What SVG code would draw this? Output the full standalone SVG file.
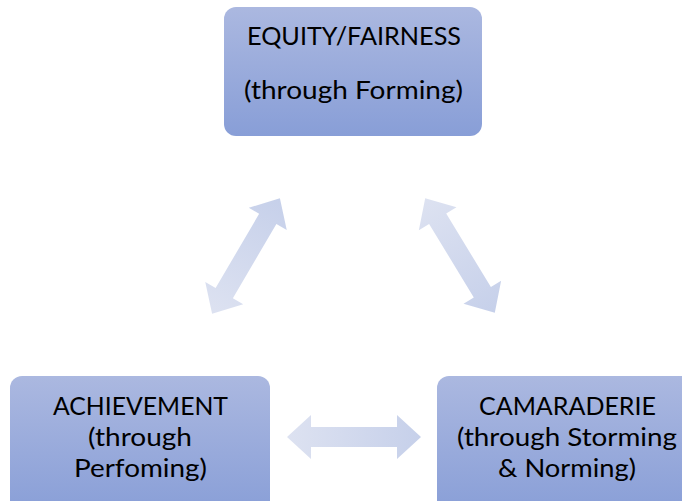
<svg xmlns="http://www.w3.org/2000/svg" width="682" height="501" viewBox="0 0 682 501">
<defs>
<linearGradient id="boxg" x1="0" y1="0" x2="0" y2="1">
<stop offset="0" stop-color="#abb8e0"/>
<stop offset="1" stop-color="#889ed7"/>
</linearGradient>
<linearGradient id="arrg" x1="0" y1="0" x2="1" y2="0">
<stop offset="0" stop-color="#dde2f1"/>
<stop offset="1" stop-color="#c6d0ea"/>
</linearGradient>
<polygon id="dbl" points="-67,0 -43,-22 -43,-10 43,-10 43,-22 67,0 43,22 43,10 -43,10 -43,22"/>
</defs>
<style>
.box{fill:url(#boxg);}
.lbl{font-family:Lato,"Liberation Sans",sans-serif;font-size:25px;fill:#000;text-anchor:middle;}
.arr{fill:url(#arrg);}
</style>
<rect width="682" height="501" fill="#fff"/>
<g id="connectors">
<use href="#dbl" class="arr" transform="translate(246,256) rotate(-59.6)"/>
<use href="#dbl" class="arr" transform="translate(460,255.5) rotate(58.7)"/>
<use href="#dbl" class="arr" transform="translate(354,437)"/>
</g>
<g id="equity">
<rect class="box" x="224" y="7" width="258" height="129" rx="12"/>
<text class="lbl" x="354" y="45" textLength="214" lengthAdjust="spacingAndGlyphs">EQUITY/FAIRNESS</text>
<text class="lbl" x="353.5" y="99" textLength="219" lengthAdjust="spacingAndGlyphs">(through Forming)</text>
</g>
<g id="achievement">
<rect class="box" x="10" y="376" width="260" height="140" rx="12"/>
<text class="lbl" x="140.5" y="415" textLength="175" lengthAdjust="spacingAndGlyphs">ACHIEVEMENT</text>
<text class="lbl" x="140" y="446" textLength="104" lengthAdjust="spacingAndGlyphs">(through</text>
<text class="lbl" x="140.5" y="477" textLength="133" lengthAdjust="spacingAndGlyphs">Perfoming)</text>
</g>
<g id="camaraderie">
<rect class="box" x="437" y="376" width="260" height="140" rx="12"/>
<text class="lbl" x="567.5" y="415" textLength="177" lengthAdjust="spacingAndGlyphs">CAMARADERIE</text>
<text class="lbl" x="567" y="446" textLength="220" lengthAdjust="spacingAndGlyphs">(through Storming</text>
<text class="lbl" x="567" y="477" textLength="138" lengthAdjust="spacingAndGlyphs">&amp; Norming)</text>
</g>
</svg>
